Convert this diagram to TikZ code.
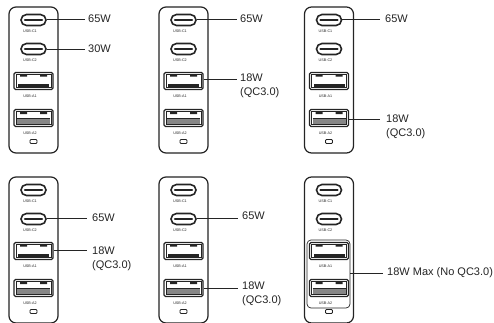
\documentclass[tikz,border=0pt]{standalone}
\usepackage{fontspec}
\setmainfont{Liberation Sans}
\definecolor{ink}{gray}{0.14}
\tikzset{
  x=1pt,y=-1pt,
  body/.style={draw=ink,line width=1.2pt,rounded corners=7pt},
  cport/.style={draw=ink,line width=1.6pt,rounded corners=5.5pt,minimum width=25pt,minimum height=11pt,inner sep=0pt},
  aport/.style={draw=ink,line width=1.3pt,rounded corners=1.5pt,minimum width=39pt,minimum height=17pt,inner sep=0pt},
  small/.style={font=\fontsize{3.7}{4}\selectfont,text=ink,inner sep=0pt},
  lbl/.style={font=\fontsize{11}{14}\selectfont,text=ink,anchor=west,inner sep=0pt,align=left},
  wire/.style={draw=ink,line width=0.8pt},
  ledbox/.style={draw=ink,line width=0.9pt,rounded corners=1pt,minimum width=7pt,minimum height=4pt,inner sep=0pt},
  groupbox/.style={draw=ink,line width=0.7pt,rounded corners=4pt,minimum width=43pt,minimum height=68pt,inner sep=0pt},
}
\newcommand{\charger}[3]{%
  \begin{scope}[shift={(#2,#3)}]
    \draw[body] (9,7) rectangle (58,153);
    \node[cport] (#1c1) at (33.5,20) {};
    \draw[ink,line width=2.2pt,line cap=round] (25,20) -- (42,20);
    \node[small] (#1t1) at (30,31) {USB-C1};
    \node[cport] (#1c2) at (33.5,49) {};
    \draw[ink,line width=2.2pt,line cap=round] (25,49) -- (42,49);
    \node[small] (#1t2) at (30,60) {USB-C2};
    \node[aport] (#1a1) at (33.5,81) {};
    \draw[ink,line width=0.5pt] (16,74.5) rectangle (51,87.5);
    \fill[ink] (18,84) rectangle (49,87);
    \fill[ink] (20,74.5) rectangle (27,76.5) (40,74.5) rectangle (47,76.5);
    \node[small] (#1t3) at (30,96) {USB-A1};
    \node[aport] (#1a2) at (33.5,118) {};
    \draw[ink,line width=0.5pt] (16,111.5) rectangle (51,124.5);
    \fill[ink!55] (17,119) rectangle (50,124);
    \fill[ink] (20,111.5) rectangle (27,114) (40,111.5) rectangle (47,114);
    \draw[ink,line width=0.8pt] (17,118.5) -- (50,118.5);
    \node[small] (#1t4) at (30,133) {USB-A2};
    \node[ledbox] (#1led) at (33.5,141.5) {};
  \end{scope}}
\begin{document}
\begin{tikzpicture}
\useasboundingbox (0,0) rectangle (494,322);
\clip (0,0) rectangle (494,322);
\charger{a}{0}{0}
\charger{b}{150}{0}
\charger{c}{295.5}{0}
\charger{d}{0}{170}
\charger{e}{150}{170}
\charger{f}{295.5}{170}
% panel a
\node[lbl] (a65) at (88,19) {65W};
\node[lbl] (a30) at (88,49) {30W};
\coordinate (a1w) at (85,19);
\coordinate (a2w) at (85,49);
\draw[wire] (ac1.east |- a1w) -- (a1w);
\draw[wire] (ac2.east |- a2w) -- (a2w);
% panel b
\node[lbl] (b65) at (240,19) {65W};
\node[lbl] (b18) at (240,85.5) {18W\\(QC3.0)};
\coordinate (b1w) at (237,19);
\coordinate (b2w) at (237,79);
\draw[wire] (bc1.east |- b1w) -- (b1w);
\draw[wire] (ba1.east |- b2w) -- (b2w);
% panel c
\node[lbl] (c65) at (385,19) {65W};
\node[lbl] (c18) at (386,127) {18W\\(QC3.0)};
\coordinate (c1w) at (380,19);
\coordinate (c2w) at (380,119);
\draw[wire] (cc1.east |- c1w) -- (c1w);
\draw[wire] (ca2.east |- c2w) -- (c2w);
% panel d
\node[lbl] (d65) at (92,218) {65W};
\node[lbl] (d18) at (92,259) {18W\\(QC3.0)};
\coordinate (d1w) at (87,218);
\coordinate (d2w) at (87,250);
\draw[wire] (dc2.east |- d1w) -- (d1w);
\draw[wire] (da1.east |- d2w) -- (d2w);
% panel e
\node[lbl] (e65) at (242,216) {65W};
\node[lbl] (e18) at (242,294) {18W\\(QC3.0)};
\coordinate (e1w) at (238,218);
\coordinate (e2w) at (238,288);
\draw[wire] (ec2.east |- e1w) -- (e1w);
\draw[wire] (ea2.east |- e2w) -- (e2w);
% panel f
\node[groupbox] (fbox) at (328.5,274) {};
\node[lbl] (f18) at (387,273) {18W Max (No QC3.0)};
\coordinate (f1w) at (383,273);
\draw[wire] (fbox.east |- f1w) -- (f1w);
\end{tikzpicture}
\end{document}
